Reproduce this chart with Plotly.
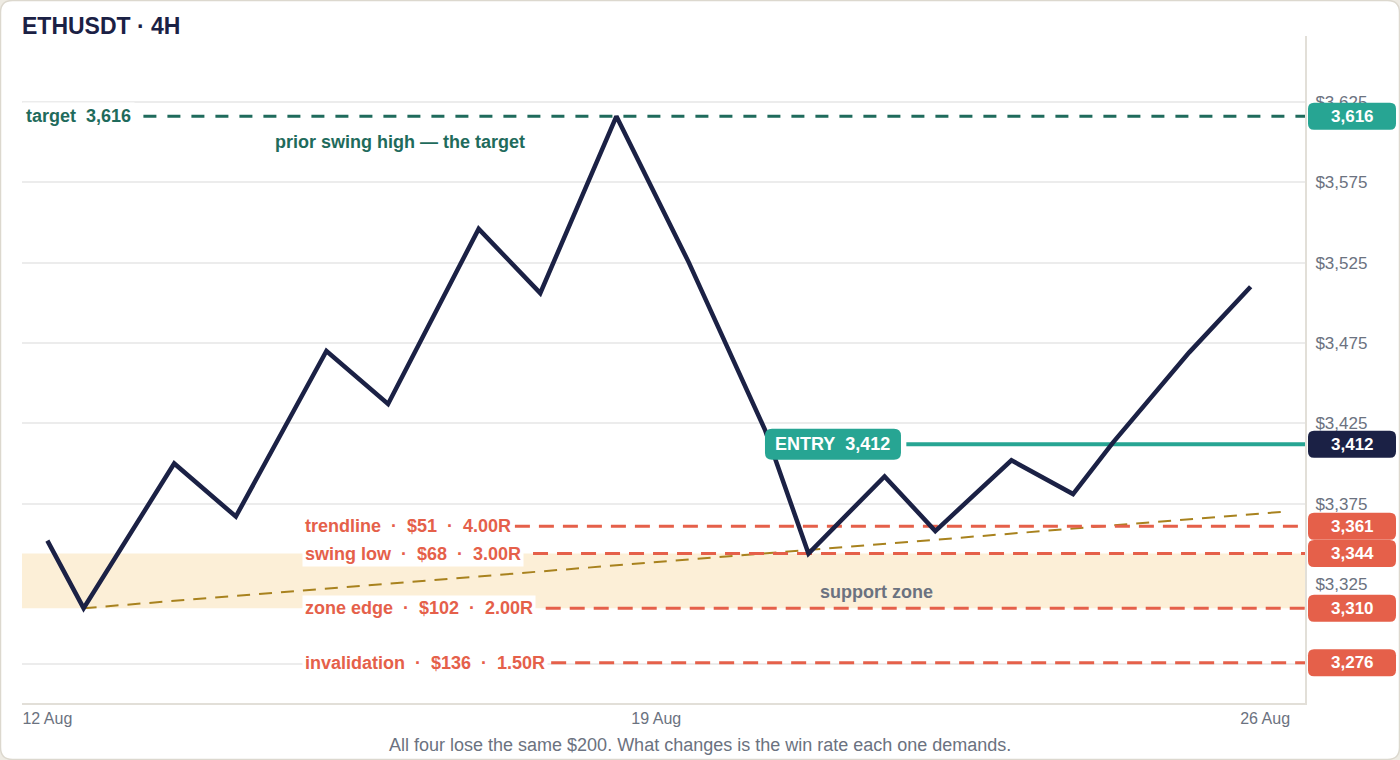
import plotly.graph_objects as go

# ETHUSDT 4H closes at the swing points
times = ["2024-08-12 00:00", "2024-08-12 10:00", "2024-08-13 11:00", "2024-08-14 04:00",
         "2024-08-15 05:00", "2024-08-15 22:00", "2024-08-16 23:00", "2024-08-17 16:00",
         "2024-08-18 13:00", "2024-08-19 09:00", "2024-08-20 06:00", "2024-08-20 18:00",
         "2024-08-21 15:00", "2024-08-22 05:00", "2024-08-23 02:00", "2024-08-23 19:00",
         "2024-08-24 06:00", "2024-08-25 03:00", "2024-08-25 20:00"]
prices = [3352, 3310, 3400, 3367, 3470, 3437, 3546, 3506, 3616, 3525, 3421, 3344,
          3392, 3358, 3402, 3381, 3413, 3469, 3510]

# rising trendline drawn off the first low
trend_times = ["2024-08-12 10:00", "2024-08-26 05:00"]
trend_prices = [3310, 3370]

target = 3616
target_line_from = "2024-08-13 02:30"
entry = 3412
entry_time = "2024-08-20 06:00"
entry_line_from = "2024-08-21 21:00"

stop_names = ["trendline", "swing low", "zone edge", "invalidation"]
stop_prices = [3361, 3344, 3310, 3276]
stop_line_from = ["2024-08-17 09:00", "2024-08-17 14:00", "2024-08-17 17:30", "2024-08-17 19:00"]
zone = [3310, 3344]

x_range = ["2024-08-11 17:00", "2024-08-26 11:00"]
y_range = [3251, 3666]
date_ticks = ["2024-08-12", "2024-08-19", "2024-08-26"]
price_ticks = [3275, 3325, 3375, 3425, 3475, 3525, 3575, 3625]
price_tick_text = ["", "$3,325", "$3,375", "$3,425", "$3,475", "$3,525", "$3,575", "$3,625"]

NAVY = "#1b2145"
TEAL = "#27a593"
TEAL_DARK = "#1f6b5c"
RED = "#e5604a"
GOLD = "#a8821e"
ZONE = "#fcefd7"
GREY = "#6b7280"
FONT = "Liberation Sans, Arial, sans-serif"

W, H = 1400, 760
ML, MR, MT, MB = 22, 95, 36, 57
PW, PH = W - ML - MR, H - MT - MB


def rrect(x0, y0, x1, y1, r, fx=lambda v: v, fy=lambda v: v):
    pts = [
        ("M", [(x0 + r, y0)]), ("L", [(x1 - r, y0)]), ("Q", [(x1, y0), (x1, y0 + r)]),
        ("L", [(x1, y1 - r)]), ("Q", [(x1, y1), (x1 - r, y1)]), ("L", [(x0 + r, y1)]),
        ("Q", [(x0, y1), (x0, y1 - r)]), ("L", [(x0, y0 + r)]), ("Q", [(x0, y0), (x0 + r, y0)]),
    ]
    s = ""
    for cmd, ps in pts:
        s += cmd + " ".join(f"{fx(a):.5f},{fy(b):.5f}" for a, b in ps) + " "
    return s + "Z"


def ypaper(v):
    return (v - y_range[0]) / (y_range[1] - y_range[0])


fig = go.Figure()

# card behind everything
fig.add_shape(type="path", xref="paper", yref="paper", layer="below",
              path=rrect(0.5, 0.5, W - 0.5, H - 0.5, 12,
                         fx=lambda px: (px - ML) / PW, fy=lambda py: (H - MB - py) / PH),
              fillcolor="white", line=dict(color="#dcd8ce", width=1.5))

# support zone (over the gridlines, under the lines)
fig.add_shape(type="rect", xref="x", yref="y", layer="between",
              x0=x_range[0], x1=x_range[1], y0=zone[0], y1=zone[1],
              fillcolor=ZONE, line=dict(width=0))

fig.add_trace(go.Scatter(x=trend_times, y=trend_prices, mode="lines",
                         line=dict(color=GOLD, width=2, dash="13px,9px"), hoverinfo="skip"))

for p, x0 in zip(stop_prices, stop_line_from):
    fig.add_trace(go.Scatter(x=[x0, x_range[1]], y=[p, p], mode="lines",
                             line=dict(color=RED, width=3, dash="15px,9px"), hoverinfo="skip"))

fig.add_trace(go.Scatter(x=[target_line_from, x_range[1]], y=[target, target], mode="lines",
                         line=dict(color=TEAL_DARK, width=3, dash="13px,11px"), hoverinfo="skip"))
fig.add_trace(go.Scatter(x=[entry_line_from, x_range[1]], y=[entry, entry], mode="lines",
                         line=dict(color=TEAL, width=4), hoverinfo="skip"))

fig.add_trace(go.Scatter(x=times, y=prices, mode="lines",
                         line=dict(color=NAVY, width=4.5), hoverinfo="skip"))

ann = []
bold = lambda size, color: dict(family=FONT, size=size, color=color, weight=700)

ann.append(dict(x=0, xref="paper", y=target, yref="y", xanchor="left", yanchor="middle",
                text=f"target\u00a0\u00a0{target:,}", showarrow=False, bgcolor="white",
                borderpad=3, font=bold(18, TEAL_DARK)))
ann.append(dict(x=0.295, xref="paper", y=target - 16, yref="y", xanchor="center", yanchor="middle",
                text="prior swing high — the target", showarrow=False, font=bold(18, TEAL_DARK)))

for name, p in zip(stop_names, stop_prices):
    risk = entry - p
    r_mult = (target - entry) / risk
    ann.append(dict(x=0.218, xref="paper", y=p, yref="y", xanchor="left", yanchor="middle",
                    text=f"{name}\u00a0\u00a0·\u00a0\u00a0${risk}\u00a0\u00a0·\u00a0\u00a0{r_mult:.2f}R",
                    showarrow=False, bgcolor="white", borderpad=2, font=bold(18, RED)))

ann.append(dict(x=0.666, xref="paper", y=(zone[0] + zone[1]) / 2 - 7, yref="y",
                xanchor="center", yanchor="middle", text="support zone", showarrow=False,
                font=bold(18, GREY)))

# ENTRY pill
fig.add_shape(type="path", xref="x", yref="y", xsizemode="pixel", ysizemode="pixel",
              xanchor=entry_time, yanchor=entry, layer="above",
              path=rrect(0, -15.5, 136, 15.5, 7), fillcolor=TEAL, line=dict(width=0))
ann.append(dict(x=entry_time, xref="x", y=entry, yref="y", xanchor="center", yanchor="middle",
                xshift=68, text=f"ENTRY\u00a0\u00a0{entry:,}", showarrow=False, font=bold(18, "white")))

# price tags on the right axis
tags = [(target, TEAL), (entry, NAVY)] + [(p, RED) for p in stop_prices]
for p, c in tags:
    fig.add_shape(type="path", xref="paper", yref="paper", xsizemode="pixel", ysizemode="pixel",
                  xanchor=1, yanchor=ypaper(p), layer="above",
                  path=rrect(3, -13.5, 91, 13.5, 6), fillcolor=c, line=dict(width=0))
    ann.append(dict(x=1, xref="paper", y=p, yref="y", xanchor="center", yanchor="middle",
                    xshift=47, text=f"{p:,}", showarrow=False, font=bold(17, "white")))

ann.append(dict(x=(W / 2 - ML) / PW, xref="paper", y=-0.063, yref="paper",
                xanchor="center", yanchor="middle", showarrow=False,
                text="All four lose the same $200. What changes is the win rate each one demands.",
                font=dict(family=FONT, size=18, color=GREY)))

fig.update_layout(
    width=W, height=H,
    margin=dict(l=ML, r=MR, t=MT, b=MB),
    paper_bgcolor="#eeebe3",
    plot_bgcolor="white",
    showlegend=False,
    font=dict(family=FONT, color=GREY),
    title=dict(text="ETHUSDT · 4H", x=22 / W, xanchor="left", y=1 - 26 / H, yanchor="middle",
               font=dict(family=FONT, size=23, color=NAVY, weight=700)),
    annotations=ann,
    xaxis=dict(type="date", range=x_range, tickvals=date_ticks, tickformat="%-d %b",
               showgrid=False, zeroline=False, showline=True, linecolor="#e2dfd8", linewidth=2,
               ticks="", tickfont=dict(family=FONT, size=16, color=GREY)),
    yaxis=dict(side="right", range=y_range, tickvals=price_ticks, ticktext=price_tick_text,
               showgrid=True, gridcolor="#ececec", gridwidth=1.5, zeroline=False,
               showline=True, linecolor="#e2dfd8", linewidth=2,
               ticks="outside", ticklen=5, tickcolor="rgba(0,0,0,0)",
               tickfont=dict(family=FONT, size=17, color=GREY)),
)

fig.write_html("out.html", config={"displayModeBar": False},
               post_script="document.body.style.margin='0';")
